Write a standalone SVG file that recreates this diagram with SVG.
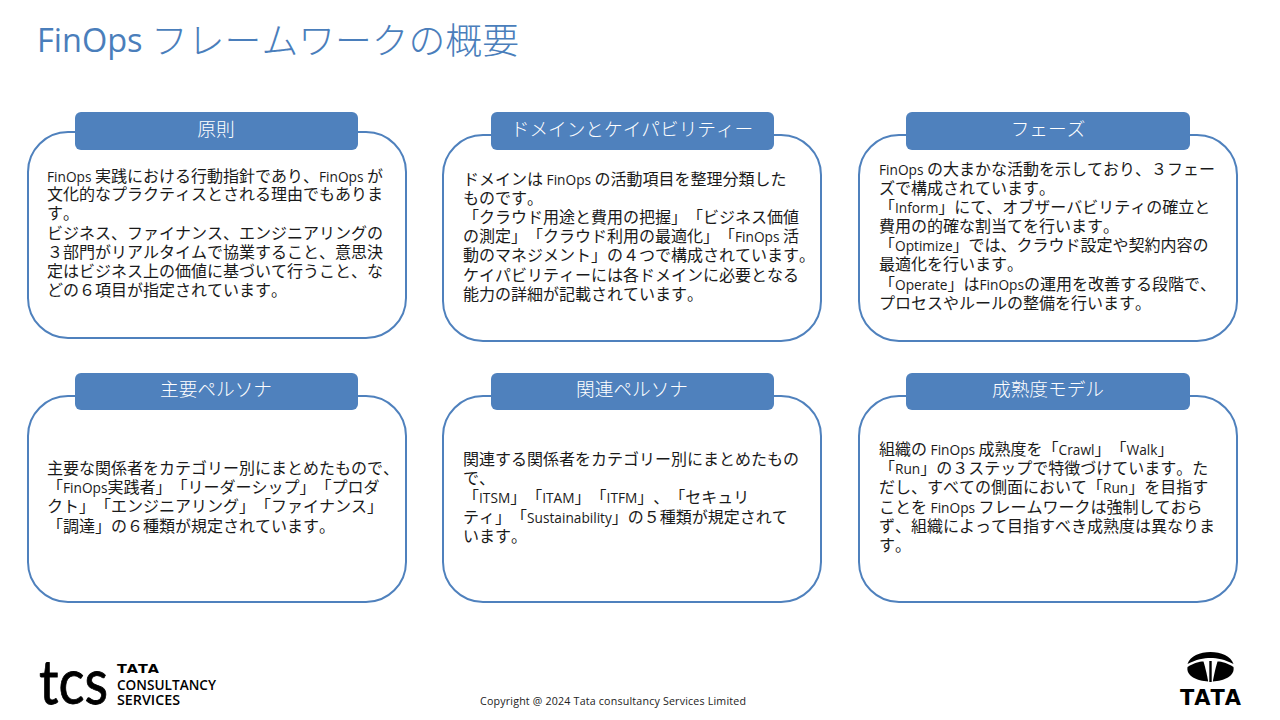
<svg xmlns="http://www.w3.org/2000/svg" width="1280" height="720" viewBox="0 0 1280 720">
<style>
text{font-family:"Open Sans","Noto Sans CJK JP",sans-serif;text-spacing-trim:space-all;font-kerning:none}
.card{fill:#fff;stroke:#4f81bd;stroke-width:2}
.head{fill:#4f81bd}
.ht{fill:#fff;font-size:18.67px;text-anchor:middle;font-weight:300}
.b{fill:#1a1a1a;font-size:16px;font-weight:400}
.b tspan.l{font-size:13.7px;font-weight:400}
.k{fill:#000}
</style>
<rect width="1280" height="720" fill="#fff"/>
<text id="title" fill="#4a7ebb" font-weight="300"><tspan x="37" y="52" font-size="32.500" font-weight="400">FinOps</tspan><tspan x="151" y="54" font-size="36.800">フレームワークの概要</tspan></text>

<g id="n1"><rect class="card" x="28" y="132" width="378" height="206" rx="40"/><rect class="head" x="75" y="112" width="283" height="38" rx="6"/><text class="ht" x="216" y="136">原則</text>
<text class="b"><tspan x="47" y="182"><tspan class="l">FinOps </tspan>実践における行動指針であり、<tspan class="l">FinOps </tspan>が</tspan><tspan x="47" y="200">文化的なプラクティスとされる理由でもありま</tspan><tspan x="47" y="219">す。</tspan><tspan x="47" y="239">ビジネス、ファイナンス、エンジニアリングの</tspan><tspan x="47" y="258">３部門がリアルタイムで協業すること、意思決</tspan><tspan x="47" y="277">定はビジネス上の価値に基づいて行うこと、な</tspan><tspan x="47" y="296">どの６項目が指定されています。</tspan></text></g>

<g id="n2"><rect class="card" x="443" y="135" width="378" height="206" rx="40"/><rect class="head" x="491" y="112" width="283" height="38" rx="6"/><text class="ht" x="632" y="136">ドメインとケイパビリティー</text>
<text class="b"><tspan x="463" y="185">ドメインは<tspan class="l"> FinOps </tspan>の活動項目を整理分類した</tspan><tspan x="463" y="204">ものです。</tspan><tspan x="463" y="223">「クラウド用途と費用の把握」「ビジネス価値</tspan><tspan x="463" y="242">の測定」「クラウド利用の最適化」「<tspan class="l">FinOps </tspan>活</tspan><tspan x="463" y="261">動のマネジメント」の４つで構成されています。</tspan><tspan x="463" y="281">ケイパビリティーには各ドメインに必要となる</tspan><tspan x="463" y="300">能力の詳細が記載されています。</tspan></text></g>

<g id="n3"><rect class="card" x="859" y="135" width="378" height="206" rx="40"/><rect class="head" x="906" y="112" width="284" height="38" rx="6"/><text class="ht" x="1048" y="136">フェーズ</text>
<text class="b"><tspan x="879" y="175"><tspan class="l">FinOps </tspan>の大まかな活動を示しており、３フェー</tspan><tspan x="879" y="194">ズで構成されています。</tspan><tspan x="879" y="213">「<tspan class="l">Inform</tspan>」にて、オブザーバビリティの確立と</tspan><tspan x="879" y="232">費用の的確な割当てを行います。</tspan><tspan x="879" y="251">「<tspan class="l">Optimize</tspan>」では、クラウド設定や契約内容の</tspan><tspan x="879" y="270">最適化を行います。</tspan><tspan x="879" y="290">「<tspan class="l">Operate</tspan>」は<tspan class="l">FinOps</tspan>の運用を改善する段階で、</tspan><tspan x="879" y="309">プロセスやルールの整備を行います。</tspan></text></g>

<g id="n4"><rect class="card" x="28" y="396" width="378" height="206" rx="40"/><rect class="head" x="75" y="373" width="283" height="37" rx="6"/><text class="ht" x="216" y="396">主要ペルソナ</text>
<text class="b"><tspan x="47" y="474">主要な関係者をカテゴリー別にまとめたもので、</tspan><tspan x="47" y="493">「<tspan class="l">FinOps</tspan>実践者」「リーダーシップ」「プロダ</tspan><tspan x="47" y="512">クト」「エンジニアリング」「ファイナンス」</tspan><tspan x="47" y="532">「調達」の６種類が規定されています。</tspan></text></g>

<g id="n5"><rect class="card" x="443" y="396" width="378" height="206" rx="40"/><rect class="head" x="491" y="373" width="283" height="37" rx="6"/><text class="ht" x="632" y="396">関連ペルソナ</text>
<text class="b"><tspan x="463" y="465">関連する関係者をカテゴリー別にまとめたもの</tspan><tspan x="463" y="484">で、</tspan><tspan x="463" y="503">「<tspan class="l">ITSM</tspan>」「<tspan class="l">ITAM</tspan>」「<tspan class="l">ITFM</tspan>」、「セキュリ</tspan><tspan x="463" y="523">ティ」「<tspan class="l">Sustainability</tspan>」の５種類が規定されて</tspan><tspan x="463" y="542">います。</tspan></text></g>

<g id="n6"><rect class="card" x="859" y="396" width="378" height="206" rx="40"/><rect class="head" x="906" y="373" width="284" height="37" rx="6"/><text class="ht" x="1048" y="396">成熟度モデル</text>
<text class="b"><tspan x="879" y="455">組織の<tspan class="l"> FinOps </tspan>成熟度を「<tspan class="l">Crawl</tspan>」「<tspan class="l">Walk</tspan>」</tspan><tspan x="879" y="474">「<tspan class="l">Run</tspan>」の３ステップで特徴づけています。た</tspan><tspan x="879" y="493">だし、すべての側面において「<tspan class="l">Run</tspan>」を目指す</tspan><tspan x="879" y="513">ことを<tspan class="l"> FinOps </tspan>フレームワークは強制しておら</tspan><tspan x="879" y="532">ず、組織によって目指すべき成熟度は異なりま</tspan><tspan x="879" y="551">す。</tspan></text></g>

<g id="tcs-logo" class="k">
<text x="39" y="704" font-size="62" style="font-family:Lato,sans-serif" stroke="#000" stroke-width="0.8" textLength="69" lengthAdjust="spacingAndGlyphs">tcs</text>
<text x="117" y="673" style="font-family:'DejaVu Sans',sans-serif" font-size="13" font-weight="700" textLength="42" lengthAdjust="spacingAndGlyphs">TATA</text>
<text x="117" y="690" font-size="15" font-weight="600" textLength="99" lengthAdjust="spacingAndGlyphs">CONSULTANCY</text>
<text x="117" y="704.500" font-size="15" font-weight="600" textLength="63" lengthAdjust="spacingAndGlyphs">SERVICES</text>
</g>
<text id="copyright" x="480" y="705" font-size="10.670" fill="#222" textLength="266">Copyright @ 2024 Tata consultancy Services Limited</text>
<g id="tata-logo" class="k">
<path d="M1187.500 664C1190 656 1200 652 1210.500 652C1221 652 1231 656 1233.500 664C1225 659.500 1217 658 1210.500 658C1204 658 1196 659.500 1187.500 664Z"/>
<path d="M1187.500 667C1194 663 1199 661.500 1203.500 661.500C1205.500 668 1207 675 1208.200 681.500C1197 681 1186 676 1187.500 667Z"/>
<path d="M1233.500 667C1227 663 1222 661.500 1217.500 661.500C1215.500 668 1214 675 1212.800 681.500C1224 681 1235 676 1233.500 667Z"/>
<rect x="1209.300" y="661" width="2.400" height="21"/>
<text x="1180" y="705" style="font-family:'DejaVu Sans',sans-serif" font-size="22" font-weight="700" textLength="61" lengthAdjust="spacingAndGlyphs">TATA</text>
</g>
</svg>
